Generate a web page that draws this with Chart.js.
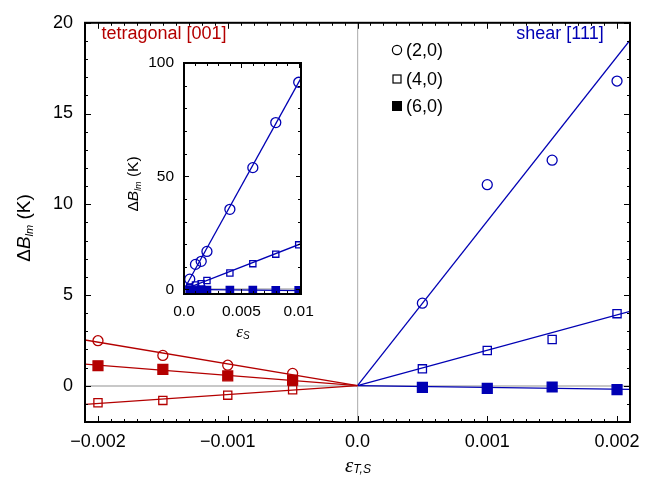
<!DOCTYPE html>
<html>
<head>
<meta charset="utf-8">
<script src="https://cdn.jsdelivr.net/npm/chart.js@4.4.0/dist/chart.umd.min.js"></script>
<style>
  body { margin: 0; background: #fff; }
  #wrap { position: relative; width: 667px; height: 479px; }
  #wrap canvas { position: absolute; left: 0; top: 0; }
</style>
</head>
<body>
<div id="wrap">
  <canvas id="main" width="667" height="479"></canvas>
  <canvas id="inset" width="667" height="479"></canvas>
</div>
<script>
//#region data
// tetragonal [001] strain (red, negative side)
const tetraX = [-0.002, -0.0015, -0.001, -0.0005];
const tetra20 = [2.48, 1.67, 1.13, 0.68];
const tetra40 = [-0.94, -0.81, -0.52, -0.22];
const tetra60 = [1.10, 0.90, 0.54, 0.30];

// shear [111] strain (blue, positive side)
const shearX = [0.0005, 0.001, 0.0015, 0.002];
const shear20 = [4.55, 11.08, 12.43, 16.79];
const shear40 = [0.93, 1.94, 2.55, 3.97];
const shear60 = [-0.09, -0.15, -0.07, -0.22];

// fitted lines (end points)
const tetraFitX = [-0.0021, 0];
const tetraFit20 = [2.52, 0];
const tetraFit40 = [-1.03, 0];
const tetraFit60 = [1.19, 0];
const shearFitX = [0, 0.0021];
const shearFit20 = [0, 19.04];
const shearFit40 = [0, 4.10];
const shearFit60 = [0, -0.20];

// inset: shear up to larger strain
const insetX = [0.0005, 0.001, 0.0015, 0.002, 0.004, 0.006, 0.008, 0.01];
const inset20 = [4.55, 11.08, 12.43, 16.79, 35.4, 53.8, 73.7, 91.5];
const inset40 = [0.93, 1.94, 2.55, 3.97, 7.3, 11.4, 15.6, 19.7];
const inset60 = [-0.09, -0.15, -0.07, -0.22, -0.3, -0.3, -0.35, -0.4];
const insetFitX = [0, 0.0102];
const insetFit20 = [0, 93.3];
const insetFit40 = [0, 20.2];
const insetFit60 = [0, -0.5];

// tick labels
const mainXTicks = [-0.002, -0.001, 0, 0.001, 0.002];
const mainXLabels = ["\u22120.002", "\u22120.001", "0.0", "0.001", "0.002"];
const mainYTicks = [0, 5, 10, 15, 20];
const insetXTicks = [0, 0.005, 0.01];
const insetXLabels = ["0.0", "0.005", "0.01"];
const insetYTicks = [0, 50, 100];

const legendLabels = ["(2,0)", "(4,0)", "(6,0)"];
//#endregion

const RED = "#b40000";
const BLUE = "#0000b4";
const SANS = "'Liberation Sans', Arial, sans-serif";
const SERIF = "'Liberation Serif', 'Times New Roman', serif";

function pts(xs, ys) {
  return xs.map((x, i) => ({ x: x, y: ys[i] }));
}

function marks(xs, ys, color, style, radius, filled) {
  return {
    data: pts(xs, ys),
    showLine: false,
    pointStyle: style,
    pointRadius: radius,
    pointBorderWidth: 1.3,
    pointBorderColor: color,
    pointBackgroundColor: filled ? color : "rgba(0,0,0,0)",
    order: 0,
  };
}

function fit(xs, ys, color) {
  return {
    data: pts(xs, ys),
    showLine: true,
    borderColor: color,
    borderWidth: 1.3,
    pointRadius: 0,
    order: 1,
  };
}

// mixed font text (italic symbols, subscripts)
function drawRich(ctx, parts, cx, cy, angle) {
  ctx.save();
  ctx.translate(cx, cy);
  ctx.rotate(angle || 0);
  ctx.textBaseline = "middle";
  ctx.textAlign = "left";
  let total = 0;
  parts.forEach((p) => {
    ctx.font = p.font;
    p.w = ctx.measureText(p.text).width;
    total += p.w;
  });
  let x = -total / 2;
  parts.forEach((p) => {
    ctx.font = p.font;
    ctx.fillStyle = p.color || "#000";
    ctx.fillText(p.text, x, p.dy || 0);
    x += p.w;
  });
  ctx.restore();
}

// frame and inward pointing ticks on all four sides
const framePlugin = {
  id: "frame",
  afterDraw(chart, args, opts) {
    const ctx = chart.ctx;
    const a = chart.chartArea;
    const xs = chart.scales.x;
    const ys = chart.scales.y;
    ctx.save();
    ctx.strokeStyle = "#000";
    ctx.lineWidth = 1;

    const n = Math.round((xs.max - xs.min) / opts.minorX);
    const x0 = Math.ceil(xs.min / opts.minorX - 1e-6);
    for (let i = x0; i * opts.minorX <= xs.max + 1e-12; i++) {
      const v = i * opts.minorX;
      const major = xs.ticks.some((t) => Math.abs(t.value - v) < opts.minorX / 10);
      const len = major ? opts.majorLen : opts.minorLen;
      const px = Math.round(xs.getPixelForValue(v)) + 0.5;
      ctx.beginPath();
      ctx.moveTo(px, a.bottom);
      ctx.lineTo(px, a.bottom - len);
      ctx.moveTo(px, a.top);
      ctx.lineTo(px, a.top + len);
      ctx.stroke();
    }
    const y0 = Math.ceil(ys.min / opts.minorY - 1e-6);
    for (let i = y0; i * opts.minorY <= ys.max + 1e-9; i++) {
      const v = i * opts.minorY;
      const major = ys.ticks.some((t) => Math.abs(t.value - v) < opts.minorY / 10);
      const len = major ? opts.majorLen : opts.minorLen;
      const py = Math.round(ys.getPixelForValue(v)) + 0.5;
      ctx.beginPath();
      ctx.moveTo(a.left, py);
      ctx.lineTo(a.left + len, py);
      ctx.moveTo(a.right, py);
      ctx.lineTo(a.right - len, py);
      ctx.stroke();
    }

    ctx.lineWidth = opts.frameWidth;
    ctx.strokeRect(a.left, a.top, a.right - a.left, a.bottom - a.top);
    ctx.restore();
  },
};

// axis titles, annotations, legend
const textPlugin = {
  id: "texts",
  afterDraw(chart, args, opts) {
    const ctx = chart.ctx;
    (opts.items || []).forEach((it) => drawRich(ctx, it.parts, it.x, it.y, it.angle));
    if (opts.legend) {
      ctx.save();
      ctx.strokeStyle = "#000";
      ctx.fillStyle = "#000";
      ctx.lineWidth = 1.2;
      const lx = 397;
      const rows = [50, 79, 106];
      ctx.beginPath();
      ctx.arc(lx, rows[0], 4.6, 0, Math.PI * 2);
      ctx.stroke();
      ctx.strokeRect(lx - 4, rows[1] - 4, 8, 8);
      ctx.fillRect(lx - 5, rows[2] - 5, 10, 10);
      ctx.font = "18px " + SANS;
      ctx.textBaseline = "middle";
      ctx.textAlign = "left";
      legendLabels.forEach((t, i) => ctx.fillText(t, 406, rows[i] + 1));
      ctx.restore();
    }
  },
};

function zeroGrid(color, width) {
  return {
    drawTicks: false,
    color: (c) => (c.tick && c.tick.value === 0 ? color : "rgba(0,0,0,0)"),
    lineWidth: width,
  };
}

//#region main chart
new Chart(document.getElementById("main"), {
  type: "scatter",
  data: {
    datasets: [
      fit(tetraFitX, tetraFit20, RED),
      fit(tetraFitX, tetraFit40, RED),
      fit(tetraFitX, tetraFit60, RED),
      fit(shearFitX, shearFit20, BLUE),
      fit(shearFitX, shearFit40, BLUE),
      fit(shearFitX, shearFit60, BLUE),
      marks(tetraX, tetra20, RED, "circle", 5, false),
      marks(tetraX, tetra40, RED, "rect", 5.8, false),
      marks(tetraX, tetra60, RED, "rect", 7, true),
      marks(shearX, shear20, BLUE, "circle", 5, false),
      marks(shearX, shear40, BLUE, "rect", 5.8, false),
      marks(shearX, shear60, BLUE, "rect", 7, true),
    ],
  },
  options: {
    responsive: false,
    animation: false,
    layout: { padding: { top: 13, right: 37, left: 0, bottom: 0 } },
    plugins: {
      legend: { display: false },
      tooltip: { enabled: false },
      frame: { minorX: 0.0001, minorY: 1, majorLen: 6, minorLen: 3, frameWidth: 2 },
      texts: {
        legend: true,
        items: [
          {
            x: 25, y: 228, angle: -Math.PI / 2,
            parts: [
              { text: "\u0394", font: "19px " + SANS },
              { text: "B", font: "italic 19px " + SANS },
              { text: "lm", font: "italic 11px " + SANS, dy: 5 },
              { text: " (K)", font: "19px " + SANS },
            ],
          },
          {
            x: 358, y: 466,
            parts: [
              { text: "\u03b5", font: "italic 21px " + SERIF },
              { text: "T,S", font: "italic 12px " + SANS, dy: 4 },
            ],
          },
          { x: 164, y: 34, parts: [{ text: "tetragonal [001]", font: "18px " + SANS, color: RED }] },
          { x: 560, y: 34, parts: [{ text: "shear [111]", font: "18px " + SANS, color: BLUE }] },
        ],
      },
    },
    scales: {
      x: {
        type: "linear",
        min: -0.0021,
        max: 0.0021,
        afterBuildTicks: (s) => { s.ticks = mainXTicks.map((v) => ({ value: v })); },
        afterFit: (s) => { s.height = 57; },
        grid: zeroGrid("#b8b8b8", 1.2),
        border: { display: false },
        ticks: {
          padding: 9,
          maxRotation: 0,
          color: "#000",
          font: { family: SANS, size: 18 },
          callback: (v) => mainXLabels[mainXTicks.findIndex((t) => Math.abs(t - v) < 1e-9)],
        },
      },
      y: {
        type: "linear",
        min: -2,
        max: 20,
        afterBuildTicks: (s) => { s.ticks = mainYTicks.map((v) => ({ value: v })); },
        afterFit: (s) => { s.width = 85; },
        grid: zeroGrid("#c8c8c8", 2),
        border: { display: false },
        ticks: {
          padding: 12,
          color: "#000",
          font: { family: SANS, size: 18 },
        },
      },
    },
  },
  plugins: [framePlugin, textPlugin],
});
//#endregion

//#region inset chart
new Chart(document.getElementById("inset"), {
  type: "scatter",
  data: {
    datasets: [
      fit(insetFitX, insetFit20, BLUE),
      fit(insetFitX, insetFit40, BLUE),
      fit(insetFitX, insetFit60, BLUE),
      marks(insetX, inset20, BLUE, "circle", 5, false),
      marks(insetX, inset40, BLUE, "rect", 4.4, false),
      marks(insetX, inset60, BLUE, "rect", 5.2, true),
    ],
  },
  options: {
    responsive: false,
    animation: false,
    layout: { padding: { top: 63, right: 366, left: 134, bottom: 145 } },
    plugins: {
      legend: { display: false },
      tooltip: { enabled: false },
      frame: { minorX: 0.001, minorY: 10, majorLen: 5, minorLen: 3, frameWidth: 2 },
      texts: {
        items: [
          {
            x: 134, y: 184, angle: -Math.PI / 2,
            parts: [
              { text: "\u0394", font: "15.5px " + SANS },
              { text: "B", font: "italic 15.5px " + SANS },
              { text: "lm", font: "italic 9px " + SANS, dy: 4 },
              { text: " (K)", font: "15.5px " + SANS },
            ],
          },
          {
            x: 243, y: 333,
            parts: [
              { text: "\u03b5", font: "italic 17px " + SERIF },
              { text: "S", font: "italic 10px " + SANS, dy: 3 },
            ],
          },
        ],
      },
    },
    scales: {
      x: {
        type: "linear",
        min: 0,
        max: 0.0102,
        afterBuildTicks: (s) => { s.ticks = insetXTicks.map((v) => ({ value: v })); },
        afterFit: (s) => { s.height = 40; },
        grid: { drawTicks: false, display: false },
        border: { display: false },
        ticks: {
          padding: 8,
          maxRotation: 0,
          color: "#000",
          font: { family: SANS, size: 15.5 },
          callback: (v) => insetXLabels[insetXTicks.findIndex((t) => Math.abs(t - v) < 1e-9)],
        },
      },
      y: {
        type: "linear",
        min: -2,
        max: 100,
        afterBuildTicks: (s) => { s.ticks = insetYTicks.map((v) => ({ value: v })); },
        afterFit: (s) => { s.width = 50; },
        grid: zeroGrid("#c8c8c8", 2),
        border: { display: false },
        ticks: {
          padding: 10,
          color: "#000",
          font: { family: SANS, size: 15.5 },
        },
      },
    },
  },
  plugins: [framePlugin, textPlugin],
});
//#endregion
</script>
</body>
</html>
